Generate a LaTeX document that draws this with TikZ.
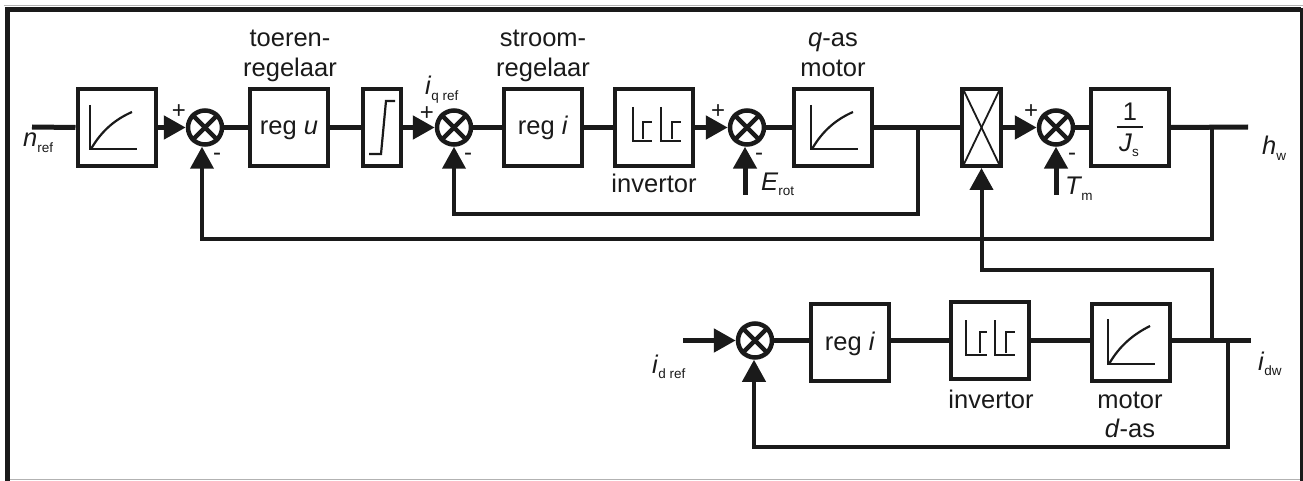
\documentclass[tikz,border=0pt]{standalone}
\usepackage{fontspec}
\setmainfont{Liberation Sans}
\usetikzlibrary{arrows.meta}
\definecolor{ink}{HTML}{1A1A1A}
\newcommand{\mybig}{\fontsize{25.5}{25.5}\selectfont}
\newcommand{\mysubs}{\fontsize{13.5}{13.5}\selectfont}
\newcommand{\mysign}{\fontsize{24}{24}\selectfont}
\newcommand{\symb}[2]{\textit{#1}\lower5.5pt\hbox{\mysubs #2}}
\tikzset{
  blockbox/.style={draw=ink,line width=4pt,fill=white,inner sep=0pt,minimum height=#1,text=ink,font=\mybig},
  blockbox/.default=77pt,
  wide/.style={minimum width=78pt},
  sumnode/.style={circle,draw=ink,line width=4.5pt,fill=white,minimum size=34pt,inner sep=0pt},
  xcross/.style={draw=ink,line width=4.5pt},
  wire/.style={draw=ink,line width=5pt},
  arrowline/.style={draw=ink,line width=5pt,-{Triangle[length=22pt,width=23pt]}},
  arrowback/.style={draw=ink,line width=4pt,-{Triangle[length=22pt,width=23pt]}},
  txt/.style={inner sep=0pt,anchor=base,font=\mybig,text=ink},
  ltxt/.style={inner sep=0pt,anchor=base west,font=\mybig,text=ink},
  sign/.style={inner sep=0pt,anchor=center,font=\mysign,text=ink},
  icon/.style={draw=ink,line width=2.2pt},
}
\begin{document}
\begin{tikzpicture}[x=1pt,y=-1pt]
\useasboundingbox (0,0) rectangle (1303,481);
\fill[white] (0,0) rectangle (1303,481);
% frame
\draw[gray!60,line width=1pt] (4,6) -- (1303,6);
\draw[gray!60,line width=1.5pt] (5,479.5) -- (1303,479.5);
\draw[ink,line width=5.5pt] (7.5,481) -- (7.5,9.75) -- (1300.5,9.75);
\draw[ink,line width=3pt] (1301.5,8) -- (1301.5,481);
% upper row
\coordinate (nin) at (32,127);
\node[blockbox,wide] (ramp1) at (116.5,127.5) {};
\node[sumnode] (s1) at (205,127.5) {};
\node[blockbox,wide] (regu) at (289,127.5) {};
\node[blockbox,minimum width=38pt] (sat) at (382,127.5) {};
\node[sumnode] (s2) at (454,127.5) {};
\node[blockbox,wide] (regi) at (543,127.5) {};
\node[blockbox,wide] (inv) at (654,127.5) {};
\node[sumnode] (s3) at (747,127.5) {};
\node[blockbox,wide] (qmotor) at (832.5,127.5) {};
\node[blockbox,minimum width=39pt] (mult) at (981.5,127.5) {};
\node[sumnode] (s4) at (1056,127.5) {};
\node[blockbox,wide] (jbox) at (1130,127.5) {};
\coordinate (hout) at (1248,127);
\coordinate (qtap) at (918,127.5);
\coordinate (qcor) at (918,214);
\coordinate (qend) at (454,214);
\coordinate (htap) at (1212,127);
\coordinate (hcor) at (1212,239);
\coordinate (hend) at (202,239);
\coordinate (erot) at (745,195);
\coordinate (tm) at (1056,195);
% lower row
\coordinate (din) at (683,340.5);
\node[sumnode] (s5) at (755,340.5) {};
\node[blockbox,wide] (regid) at (850,342) {};
\node[blockbox,wide] (invd) at (989.5,340.5) {};
\node[blockbox,wide] (dmotor) at (1131,342) {};
\coordinate (dout) at (1251,340.5);
\coordinate (utap) at (1212,340.5);
\coordinate (ucor) at (1212,270);
\coordinate (ucor2) at (981.5,270);
\coordinate (dtap) at (1228,340.5);
\coordinate (dcor) at (1228,447);
\coordinate (dend) at (754,447);
% sum crosses
\foreach \s in {s1,s2,s3,s4,s5}{
  \draw[xcross] (\s.45) -- (\s.225);
  \draw[xcross] (\s.135) -- (\s.-45);
}
% forward connectors
\draw[wire] (nin) -- (ramp1.west);
\draw[arrowline] (ramp1.east) -- (s1.west);
\draw[wire] (s1.east) -- (regu.west);
\draw[wire] (regu.east) -- (sat.west);
\draw[arrowline] (sat.east) -- (s2.west);
\draw[wire] (s2.east) -- (regi.west);
\draw[wire] (regi.east) -- (inv.west);
\draw[arrowline] (inv.east) -- (s3.west);
\draw[wire] (s3.east) -- (qmotor.west);
\draw[wire] (qmotor.east) -- (mult.west);
\draw[arrowline] (mult.east) -- (s4.west);
\draw[wire] (s4.east) -- (jbox.west);
\draw[wire] (jbox.east) -- (hout);
% feedbacks
\draw[arrowback] (qtap) -- (qcor) -- (qend) -- (s2.south);
\draw[arrowback] (htap) -- (hcor) -- (hend) -- (hend |- s1.south);
\draw[arrowline] (erot) -- (erot |- s3.south);
\draw[arrowline] (tm) -- (s4.south);
\draw[arrowback] (utap) -- (ucor) -- (ucor2) -- (mult.south);
% lower connectors
\draw[arrowline] (din) -- (s5.west);
\draw[wire] (s5.east) -- (regid.west |- s5.east);
\draw[wire] (regid.east |- invd.west) -- (invd.west);
\draw[wire] (invd.east) -- (dmotor.west |- invd.east);
\draw[wire] (dmotor.east |- dout) -- (dout);
\draw[arrowback] (dtap) -- (dcor) -- (dend) -- (dend |- s5.south);
% ramp icons
\draw[icon] (90,105) -- (90,149) -- (137,149);
\draw[icon] (91,149) .. controls (102,130) and (116,119) .. (132,112);
\draw[icon] (811,105) -- (811,149) -- (858,149);
\draw[icon] (812,149) .. controls (823,130) and (837,119) .. (853,112);
\draw[icon] (1108,319) -- (1108,364) -- (1155,364);
\draw[icon] (1109,364) .. controls (1120,345) and (1134,334) .. (1150,326);
% saturation icon
\draw[icon] (369,154) -- (381,154) -- (386,101) -- (395,101);
% invertor icons
\draw[icon] (633,107) -- (633,141) -- (652,141) (643,139) -- (643,122) -- (652,122);
\draw[icon] (661,107) -- (661,141) -- (681,141) (672,139) -- (672,122) -- (681,122);
\draw[icon] (966,320) -- (966,355) -- (987,355) (980,353) -- (980,332) -- (987,332);
\draw[icon] (995,320) -- (995,355) -- (1015,355) (1006,353) -- (1006,332) -- (1015,332);
% multiplier X
\draw[icon,line width=1.8pt] ([shift={(4,4)}]mult.north west) -- ([shift={(-4,-4)}]mult.south east);
\draw[icon,line width=1.8pt] ([shift={(-4,4)}]mult.north east) -- ([shift={(4,-4)}]mult.south west);
% 1/J
\draw[ink,line width=2.2pt] (1116.5,127) -- (1143,127);
% text
\node[txt] (t1) at (290,47) {toeren-};
\node[txt] (t2) at (290,77) {regelaar};
\node[txt] (t3) at (543,47) {stroom-};
\node[txt] (t4) at (543,77) {regelaar};
\node[txt] (t5) at (833,47) {\textit{q}-as};
\node[txt] (t6) at (833,77) {motor};
\node[txt] (t7) at (289,135) {reg \textit{u}};
\node[txt] (t8) at (543,135) {reg \textit{i}};
\node[txt] (t9) at (654,193) {invertor};
\node[txt] (t10) at (1130,121) {1};
\node[ltxt] (t11) at (1119,152) {\textit{J}\lower5pt\hbox{\mysubs s}};
\node[txt] (t12) at (850,350) {reg \textit{i}};
\node[txt] (t13) at (991,408) {invertor};
\node[txt] (t14) at (1130,408) {motor};
\node[txt] (t15) at (1130,437) {\textit{d}-as};
\node[ltxt] (l1) at (23,147) {\symb{n}{ref}};
\node[ltxt] (l2) at (425,95) {\symb{i}{q ref}};
\node[ltxt] (l3) at (761,190) {\symb{E}{rot}};
\node[ltxt] (l4) at (1065,195) {\symb{T}{\hspace{-1pt}m}};
\node[ltxt] (l5) at (1262,155) {\symb{h}{w}};
\node[ltxt] (l6) at (652,373) {\symb{i}{d ref}};
\node[ltxt] (l7) at (1258,370) {\symb{i}{dw}};
% signs
\node[sign] (p1) at (179,112) {+};
\node[sign] (m1) at (217,157) {-};
\node[sign] (p2) at (427,114) {+};
\node[sign] (m2) at (468,157) {-};
\node[sign] (p3) at (718,112) {+};
\node[sign] (m3) at (759,157) {-};
\node[sign] (p4) at (1031,112) {+};
\node[sign] (m4) at (1072,157) {-};
\end{tikzpicture}
\end{document}
